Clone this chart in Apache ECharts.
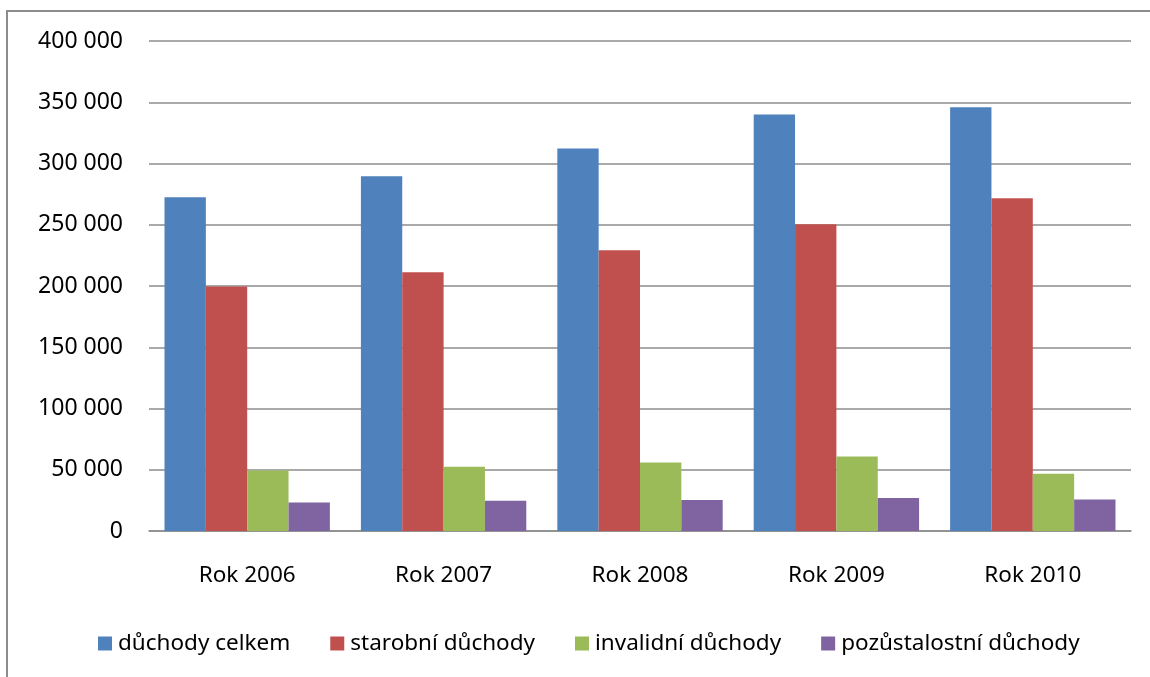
<!DOCTYPE html>
<html>
<head>
<meta charset="utf-8">
<script src="https://cdn.jsdelivr.net/npm/echarts@6/dist/echarts.min.js"></script>
<style>html,body{margin:0;padding:0;background:#fff;}#c{width:1150px;height:677px;}</style>
</head>
<body>
<div id="c"></div>
<script>
const categories = ['Rok 2006', 'Rok 2007', 'Rok 2008', 'Rok 2009', 'Rok 2010'];
const seriesNames = ['důchody celkem', 'starobní důchody', 'invalidní důchody', 'pozůstalostní důchody'];
const duchodyCelkem = [272500, 289600, 312200, 339900, 346000];
const starobni = [199500, 211200, 229100, 250500, 271700];
const invalidni = [49300, 52500, 56000, 60900, 46800];
const pozustalostni = [23200, 24600, 25400, 27000, 25700];
const yTicks = { min: 0, max: 400000, interval: 50000 };
const colors = ['#4F81BD', '#C0504D', '#9BBB59', '#8064A2'];

const values = [duchodyCelkem, starobni, invalidni, pozustalostni];
const font = '"Noto Sans", sans-serif';
const chart = echarts.init(document.getElementById('c'));
chart.setOption({
  animation: false,
  color: colors,
  graphic: [{
    type: 'rect',
    shape: { x: 7, y: 11, width: 1400, height: 900 },
    style: { fill: 'none', stroke: '#8c8c8c', lineWidth: 2 },
    silent: true, z: -1
  }],
  grid: { left: 149, right: 19, top: 41, bottom: 146 },
  legend: {
    left: 98, top: 632, padding: 0,
    itemWidth: 14, itemHeight: 14, itemGap: 40,
    icon: 'rect',
    textStyle: { fontFamily: font, fontSize: 22.5, color: '#000', padding: [0, 0, 0, 1] },
    data: seriesNames
  },
  xAxis: {
    type: 'category', data: categories,
    axisLine: { lineStyle: { color: '#8c8c8c', width: 1.5 } },
    axisTick: { show: false },
    axisLabel: { fontFamily: font, fontSize: 22.5, color: '#000', margin: 33 }
  },
  yAxis: {
    type: 'value', min: yTicks.min, max: yTicks.max, interval: yTicks.interval,
    axisLine: { show: false }, axisTick: { show: false },
    splitLine: { lineStyle: { color: '#8c8c8c', width: 1.5 } },
    axisLabel: {
      fontFamily: font, fontSize: 23, color: '#000', margin: 26,
      formatter: v => v === 0 ? '0' : String(v).replace(/\B(?=(\d{3})+(?!\d))/g, ' ')
    }
  },
  series: seriesNames.map((n, i) => ({
    name: n, type: 'bar', data: values[i],
    barGap: '0%', barCategoryGap: '15.8%',
    itemStyle: { color: colors[i] }
  }))
});
</script>
</body>
</html>
